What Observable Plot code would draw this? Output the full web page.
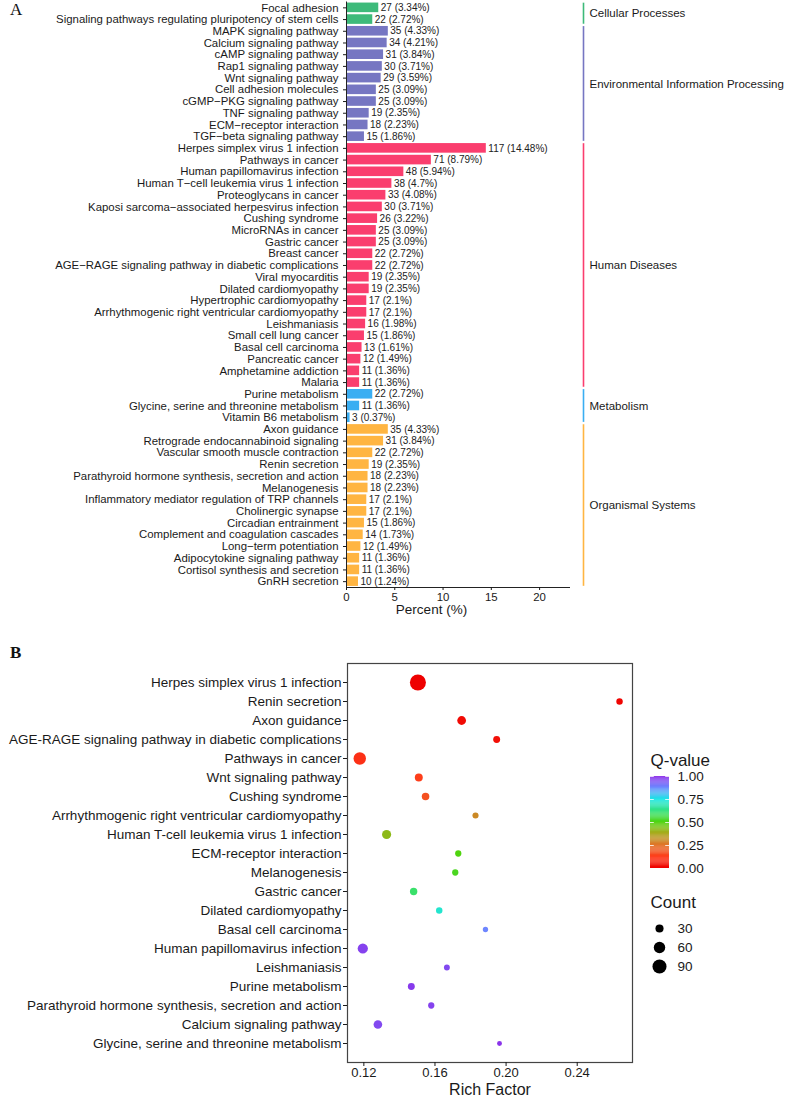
<!DOCTYPE html>
<html><head><meta charset="utf-8">
<script src="https://cdn.jsdelivr.net/npm/d3@7"></script>
<script src="https://cdn.jsdelivr.net/npm/@observablehq/plot@0.6"></script>
<style>
body{margin:0;background:#fff;}
#wrap{position:relative;width:785px;height:1098px;overflow:hidden;}
.abs{position:absolute;}
.panel{font-family:"Liberation Serif","DejaVu Serif",serif;font-size:17px;line-height:1.1;color:#111;}
</style></head><body><div id="wrap">
<div class="abs panel" style="left:10px;top:1px">A</div>
<div class="abs panel" style="left:10px;top:644px;font-weight:bold">B</div>
</div>
<script>
// ---------- Panel A data ----------
const termsA = [
 "Focal adhesion","Signaling pathways regulating pluripotency of stem cells",
 "MAPK signaling pathway","Calcium signaling pathway","cAMP signaling pathway","Rap1 signaling pathway","Wnt signaling pathway","Cell adhesion molecules","cGMP−PKG signaling pathway","TNF signaling pathway","ECM−receptor interaction","TGF−beta signaling pathway",
 "Herpes simplex virus 1 infection","Pathways in cancer","Human papillomavirus infection","Human T−cell leukemia virus 1 infection","Proteoglycans in cancer","Kaposi sarcoma−associated herpesvirus infection","Cushing syndrome","MicroRNAs in cancer","Gastric cancer","Breast cancer","AGE−RAGE signaling pathway in diabetic complications","Viral myocarditis","Dilated cardiomyopathy","Hypertrophic cardiomyopathy","Arrhythmogenic right ventricular cardiomyopathy","Leishmaniasis","Small cell lung cancer","Basal cell carcinoma","Pancreatic cancer","Amphetamine addiction","Malaria",
 "Purine metabolism","Glycine, serine and threonine metabolism","Vitamin B6 metabolism",
 "Axon guidance","Retrograde endocannabinoid signaling","Vascular smooth muscle contraction","Renin secretion","Parathyroid hormone synthesis, secretion and action","Melanogenesis","Inflammatory mediator regulation of TRP channels","Cholinergic synapse","Circadian entrainment","Complement and coagulation cascades","Long−term potentiation","Adipocytokine signaling pathway","Cortisol synthesis and secretion","GnRH secretion"];
const countsA = [27,22,35,34,31,30,29,25,25,19,18,15,117,71,48,38,33,30,26,25,25,22,22,19,19,17,17,16,15,13,12,11,11,22,11,3,35,31,22,19,18,18,17,17,15,14,12,11,11,10];
const pctsA = [3.34,2.72,4.33,4.21,3.84,3.71,3.59,3.09,3.09,2.35,2.23,1.86,14.48,8.79,5.94,4.7,4.08,3.71,3.22,3.09,3.09,2.72,2.72,2.35,2.35,2.1,2.1,1.98,1.86,1.61,1.49,1.36,1.36,2.72,1.36,0.37,4.33,3.84,2.72,2.35,2.23,2.23,2.1,2.1,1.86,1.73,1.49,1.36,1.36,1.24];
const groupNames = ["Cellular Processes","Environmental Information Processing","Human Diseases","Metabolism","Organismal Systems"];
const groupSizes = [2,10,21,3,14];
const xTicksA = [0,5,10,15,20];

// ---------- Panel B data ----------
const termsB = ["Herpes simplex virus 1 infection","Renin secretion","Axon guidance","AGE-RAGE signaling pathway in diabetic complications","Pathways in cancer","Wnt signaling pathway","Cushing syndrome","Arrhythmogenic right ventricular cardiomyopathy","Human T-cell leukemia virus 1 infection","ECM-receptor interaction","Melanogenesis","Gastric cancer","Dilated cardiomyopathy","Basal cell carcinoma","Human papillomavirus infection","Leishmaniasis","Purine metabolism","Parathyroid hormone synthesis, secretion and action","Calcium signaling pathway","Glycine, serine and threonine metabolism"];
const richB = [0.1504,0.2638,0.1750,0.1947,0.1177,0.1509,0.1547,0.1828,0.1328,0.1731,0.1714,0.1480,0.1624,0.1884,0.1194,0.1667,0.1467,0.1579,0.1279,0.1963];
const countB = [117,19,35,22,71,29,26,17,38,18,18,25,19,13,48,16,22,18,34,11];
const qB = [0.0,0.01,0.02,0.03,0.1,0.13,0.17,0.3,0.42,0.5,0.52,0.6,0.72,0.88,0.97,0.96,0.98,0.97,0.96,0.99];
const xTicksB = [0.12,0.16,0.20,0.24];
const qTicks = [0,0.25,0.5,0.75,1];
const sizeTicks = [30,60,90];

// ---------- styles ----------
const groupColors = ["#3DBA7A","#7676C2","#FA3E6E","#3AAEF2","#FFB542"];
const qStops = [0,0.12,0.25,0.4,0.5,0.62,0.75,0.88,1];
const qColors = ["#EE0000","#FF3A1A","#E2742A","#9DB21A","#4FD40E","#35E27C","#1EE6E6","#6E86FF","#8C2BE8"];
const FONT = "'Liberation Sans', Arial, Helvetica, sans-serif";

// ---------- build tables ----------
let groupOfRow = [], groupsA = [], start = 0;
groupNames.forEach((g,k)=>{
  for (let j=0;j<groupSizes[k];j++) groupOfRow.push(g);
  groupsA.push({name:g, first:start, last:start+groupSizes[k]-1});
  start += groupSizes[k];
});
const rowsA = termsA.map((t,i)=>({i, term:t, count:countsA[i], pct:pctsA[i], group:groupOfRow[i]}));
const rowsB = termsB.map((t,i)=>({term:t, rich:richB[i], count:countB[i], q:qB[i]}));
const xMaxA = 23.2;
const nA = termsA.length;

const plotA = Plot.plot({
  width:785, height:620, marginLeft:346, marginRight:215, marginTop:1.5, marginBottom:33,
  style:{fontFamily:FONT, fontSize:"11.4px", color:"#1a1a1a", background:"transparent"},
  x:{domain:[0,xMaxA], axis:null},
  y:{domain:[-0.5, nA-0.5], reverse:true, axis:null},
  color:{domain:groupNames, range:groupColors},
  marks:[
    Plot.rect(rowsA,{x1:0, x2:"pct", y1:d=>d.i-0.41, y2:d=>d.i+0.41, fill:"group"}),
    Plot.text(rowsA,{x:"pct", y:"i", text:d=>`${d.count} (${d.pct}%)`, textAnchor:"start", dx:2, fontSize:10, fill:"#222"}),
    Plot.ruleX([0],{stroke:"#222", strokeWidth:1}),
    Plot.ruleY([nA-0.5],{stroke:"#222", strokeWidth:1}),
    Plot.axisY({ticks:rowsA.map(d=>d.i), tickFormat:i=>termsA[i], tickSize:3, tickPadding:5, fontSize:11.4, label:null}),
    Plot.axisX({ticks:xTicksA, tickSize:3, tickPadding:2, fontSize:11.4, label:null}),
    Plot.text(["Percent (%)"],{frameAnchor:"bottom", lineAnchor:"middle", dy:22, dx:-27, fontSize:13.5}),
    Plot.ruleX(groupsA,{x:xMaxA, dx:13, y1:d=>d.first-0.4, y2:d=>d.last+0.4, stroke:"name", strokeWidth:1.6}),
    Plot.text(groupsA,{x:xMaxA, dx:19, y:d=>(d.first+d.last)/2, text:"name", textAnchor:"start", fontSize:11.5})
  ]
});

const plotB = Plot.plot({
  width:785, height:478, marginLeft:347, marginRight:153, marginTop:43, marginBottom:36,
  style:{fontFamily:FONT, fontSize:"13.5px", color:"#1a1a1a", background:"transparent"},
  x:{domain:[0.1108,0.2711], axis:null},
  y:{type:"point", domain:termsB, padding:0.58, axis:null},
  r:{domain:[0,117], range:[0,8]},
  color:{type:"linear", domain:qStops, range:qColors, interpolate:"rgb"},
  marks:[
    Plot.frame({stroke:"#444", strokeWidth:1.2}),
    Plot.dot(rowsB,{x:"rich", y:"term", r:"count", fill:"q"}),
    Plot.axisY({tickSize:4, tickPadding:2, fontSize:13.5, label:null}),
    Plot.axisX({ticks:xTicksB, tickFormat:d=>d.toFixed(2), tickSize:4, tickPadding:1, fontSize:13, label:null}),
    Plot.text(["Rich Factor"],{frameAnchor:"bottom", lineAnchor:"middle", dy:27.5, fontSize:16})
  ]
});

const gradSteps = d3.range(0,1,0.01);
const legC = Plot.plot({
  width:140, height:130, marginLeft:10, marginRight:111, marginTop:31, marginBottom:7,
  style:{fontFamily:FONT, fontSize:"13.5px", color:"#1a1a1a", background:"transparent"},
  x:{domain:[0,1], axis:null}, y:{domain:[0,1], axis:null},
  color:{type:"linear", domain:qStops, range:qColors, interpolate:"rgb"},
  marks:[
    Plot.rect(gradSteps,{x1:0, x2:1, y1:d=>d, y2:d=>Math.min(1,d+0.012), fill:d=>d+0.005}),
    Plot.ruleY(qTicks,{x1:0, x2:0.2, stroke:"white", strokeWidth:0.8}),
    Plot.ruleY(qTicks,{x1:0.8, x2:1, stroke:"white", strokeWidth:0.8}),
    Plot.text(qTicks,{x:1, y:d=>d, dx:8, text:d=>d.toFixed(2), textAnchor:"start", fontSize:13.5}),
    Plot.text(["Q-value"],{frameAnchor:"top-left", lineAnchor:"middle", dy:-16, textAnchor:"start", fontSize:17})
  ]
});

const legS = Plot.plot({
  width:140, height:95, marginLeft:19, marginRight:100, marginTop:43, marginBottom:14,
  style:{fontFamily:FONT, fontSize:"13.5px", color:"#1a1a1a", background:"transparent"},
  y:{type:"point", domain:sizeTicks, padding:0, axis:null},
  r:{domain:[0,117], range:[0,8]},
  marks:[
    Plot.dot(sizeTicks,{y:d=>d, r:d=>d, fill:"black", frameAnchor:"left"}),
    Plot.text(sizeTicks,{y:d=>d, text:d=>String(d), frameAnchor:"left", dx:18, textAnchor:"start", fontSize:13.5}),
    Plot.text(["Count"],{frameAnchor:"top-left", lineAnchor:"middle", dy:-26, dx:-9, textAnchor:"start", fontSize:17})
  ]
});

const wrap = document.getElementById("wrap");
function place(node, left, top){ node.style.position="absolute"; node.style.left=left+"px"; node.style.top=top+"px"; wrap.appendChild(node); }
place(plotA, 0, 0);
place(plotB, 0, 620);
place(legC, 640, 745);
place(legS, 640, 885);
</script>
</body></html>
